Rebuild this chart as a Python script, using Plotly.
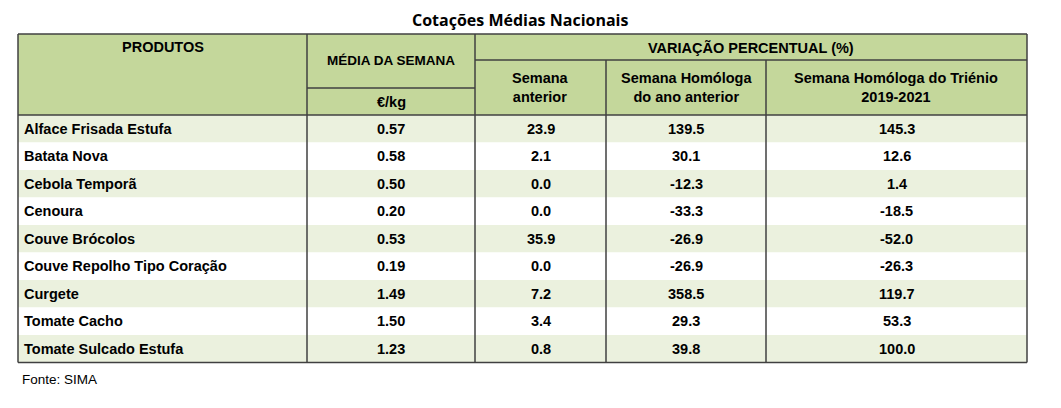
import plotly.graph_objects as go

produtos = ["Alface Frisada Estufa", "Batata Nova", "Cebola Temporã", "Cenoura", "Couve Brócolos",
            "Couve Repolho Tipo Coração", "Curgete", "Tomate Cacho", "Tomate Sulcado Estufa"]
media = ["0.57", "0.58", "0.50", "0.20", "0.53", "0.19", "1.49", "1.50", "1.23"]
sem_ant = ["23.9", "2.1", "0.0", "0.0", "35.9", "0.0", "7.2", "3.4", "0.8"]
sem_hom = ["139.5", "30.1", "-12.3", "-33.3", "-26.9", "-26.9", "358.5", "29.3", "39.8"]
sem_tri = ["145.3", "12.6", "1.4", "-18.5", "-52.0", "-26.3", "119.7", "53.3", "100.0"]

FONT = "Liberation Sans, Arial, sans-serif"
HDR = "#c4d79b"
ALT = "#ebf1de"
LINE = "#404040"
xs = [18, 307, 475, 606, 766, 1027]
top, h1, h2, hb = 34, 60, 88, 115
rh = 27.5

shapes, ann = [], []
def rect(x0, y0, x1, y1, fill, lw=0):
    shapes.append(dict(type="rect", x0=x0, y0=y0, x1=x1, y1=y1, fillcolor=fill,
                       line=dict(width=lw, color=LINE), layer="below"))
def line(x0, y0, x1, y1, w=1.5):
    shapes.append(dict(type="line", x0=x0, y0=y0, x1=x1, y1=y1, line=dict(width=w, color=LINE)))
def txt(x, y, s, size=14.5, align="center", bold=True, family=FONT):
    ann.append(dict(x=x, y=y, text=f"<b>{s}</b>" if bold else s, showarrow=False,
                    xanchor={"center": "center", "left": "left"}[align], yanchor="middle",
                    font=dict(family=family, size=size, color="black")))

rect(xs[0], top, xs[-1], hb, HDR)
n = len(produtos)
bottom = hb + rh * n
for i in range(n):
    y0 = hb + i * rh
    rect(xs[0], y0, xs[-1], y0 + rh, ALT if i % 2 == 0 else "white")
    yc = y0 + rh / 2
    txt(22, yc, produtos[i], align="left")
    for j, arr in enumerate([media, sem_ant, sem_hom, sem_tri]):
        txt((xs[j + 1] + xs[j + 2]) / 2, yc, arr[i])

line(xs[0], top, xs[-1], top)
line(xs[0], bottom, xs[-1], bottom)
line(xs[0], top, xs[0], bottom)
line(xs[-1], top, xs[-1], bottom)
line(xs[0], hb, xs[-1], hb)
line(xs[1], top, xs[1], bottom)
line(xs[2], top, xs[2], bottom)
line(xs[3], h1, xs[3], bottom)
line(xs[4], h1, xs[4], bottom)
line(xs[2], h1, xs[-1], h1)
line(xs[1], h2, xs[2], h2)

txt(163, 47, "PRODUTOS")
txt(391, 60, "MÉDIA DA SEMANA", size=13.5)
txt(391, 102, "€/kg")
txt(751, 47, "VARIAÇÃO PERCENTUAL (%)")
txt(540, 87, "Semana<br>anterior")
txt(686, 87, "Semana Homóloga<br>do ano anterior")
txt(896, 87, "Semana Homóloga do Triénio<br>2019-2021")
txt(520, 20, "Cotações Médias Nacionais", size=16, family="Open Sans, sans-serif")
txt(20, 379, "Fonte: SIMA", size=13.5, align="left", bold=False)

fig = go.Figure()
fig.update_layout(width=1061, height=408, margin=dict(l=0, r=0, t=0, b=0),
                  paper_bgcolor="white", plot_bgcolor="white",
                  xaxis=dict(range=[8, 1069], visible=False, fixedrange=True),
                  yaxis=dict(range=[416, 8], visible=False, fixedrange=True),
                  shapes=shapes, annotations=ann, showlegend=False)
fig.write_html("out.html", config={"displayModeBar": False})
